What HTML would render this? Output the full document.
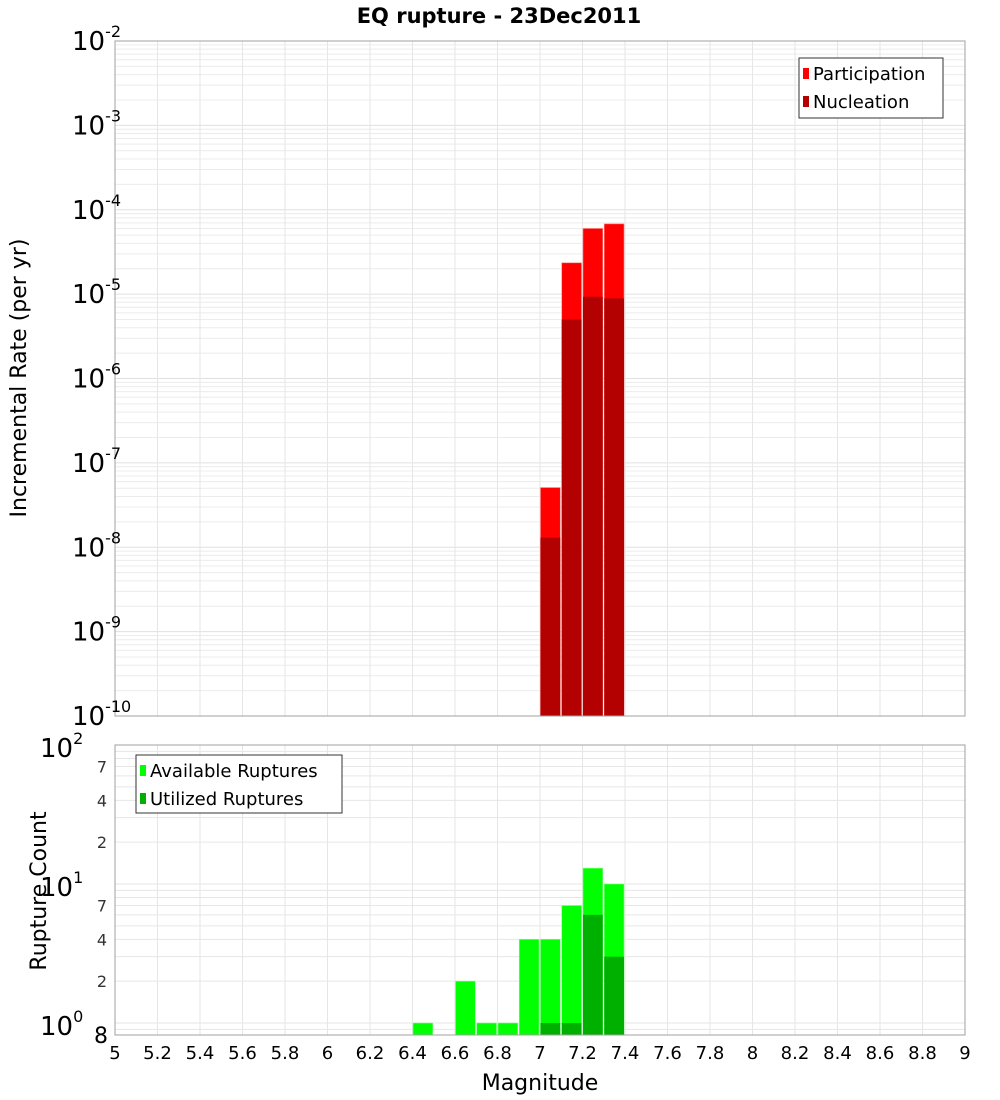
<!DOCTYPE html>
<html><head><meta charset="utf-8"><style>
html,body{margin:0;padding:0;background:#fff;}
svg{display:block;font-family:"DejaVu Sans","Liberation Sans",sans-serif;}
</style></head><body>
<svg id="c" width="1000" height="1100" xmlns="http://www.w3.org/2000/svg">
<text x="499" y="23" text-anchor="middle" font-size="21" font-weight="bold">EQ rupture - 23Dec2011</text>
<text transform="translate(26,378) rotate(-90)" text-anchor="middle" font-size="22">Incremental Rate (per yr)</text>
<text transform="translate(46,891) rotate(-90)" text-anchor="middle" font-size="22">Rupture Count</text>
<text x="540" y="1090" text-anchor="middle" font-size="22">Magnitude</text>
<g id="g"></g>
</svg>
<script>
const mags = [7.0, 7.1, 7.2, 7.3];
const participation = [5.1e-8, 2.35e-5, 6.0e-5, 6.8e-5];
const nucleation = [1.3e-8, 5.0e-6, 9.3e-6, 8.9e-6];
const countMags = [6.4, 6.5, 6.6, 6.7, 6.8, 6.9, 7.0, 7.1, 7.2, 7.3];
const available = [1, 0, 2, 1, 1, 4, 4, 7, 13, 10];
const utilized = [0, 0, 0, 0, 0, 0, 1, 1, 6, 3];
const xTicks = ["5","5.2","5.4","5.6","5.8","6","6.2","6.4","6.6","6.8","7","7.2","7.4","7.6","7.8","8","8.2","8.4","8.6","8.8","9"];

const NS = "http://www.w3.org/2000/svg";
const g = document.getElementById('g');
function mk(tag, attrs, parent){const e=document.createElementNS(NS,tag);for(const k in attrs)e.setAttribute(k,attrs[k]);(parent||g).appendChild(e);return e;}
const X0=115, X1=965;
const x = m => X0 + (m-5)/(9-5)*(X1-X0);
const T0=41, T1=716;
const yTop = v => T1 - (Math.log10(v)+10)*(T1-T0)/8;
const B0=745, B1=1035, BZ=1023, BD=139;
const yBot = v => BZ - Math.log10(v)*BD;

for(let e=-10;e<-2;e++){for(let k=1;k<10;k++){const yy=yTop(k*Math.pow(10,e));if(yy<T0)continue;
 const l=mk('line',{x1:X0,x2:X1,y1:yy,y2:yy,stroke:k==1?'#e0e0e0':'#ececec','stroke-width':1});
 }}
for(let i=0;i<=20;i++){const xx=x(5+i*0.2);
 const l=mk('line',{x1:xx,x2:xx,y1:T0,y2:T1,stroke:'#e6e6e6'});
 const l2=mk('line',{x1:xx,x2:xx,y1:B0,y2:B1,stroke:'#e6e6e6'});}
for(let e=-1;e<2;e++){for(let k=1;k<10;k++){const v=k*Math.pow(10,e);const yy=yBot(v);if(yy>B1||yy<B0)continue;
 const l=mk('line',{x1:X0,x2:X1,y1:yy,y2:yy,stroke:'#e6e6e6'});}}
{const l=mk('line',{x1:X0,x2:X1,y1:yBot(100),y2:yBot(100),stroke:'#e6e6e6'});}

mags.forEach((m,i)=>{
 const w=x(m+0.1)-x(m);
 const p=mk('rect',{x:x(m)+0.5,y:yTop(participation[i]),width:w-1.5,height:T1-yTop(participation[i]),fill:'#ff0000',stroke:'#ff8080','stroke-width':0.6});
 
 const n=mk('rect',{x:x(m)+0.5,y:yTop(nucleation[i]),width:w-1.5,height:T1-yTop(nucleation[i]),fill:'#b30000'});
 
});
countMags.forEach((m,i)=>{
 const w=x(m+0.1)-x(m);
 if(available[i]>0){const a=mk('rect',{x:x(m)+0.5,y:yBot(available[i]),width:w-1.5,height:B1-yBot(available[i]),fill:'#00ff00',stroke:'#80ff80','stroke-width':0.6});
  }
 if(utilized[i]>0){const u=mk('rect',{x:x(m)+0.5,y:yBot(utilized[i]),width:w-1.5,height:B1-yBot(utilized[i]),fill:'#00b000'});
  }
});

{const r=mk('rect',{x:X0,y:T0,width:X1-X0,height:T1-T0,fill:'none',stroke:'#a0a0a0'});
 const r2=mk('rect',{x:X0,y:B0,width:X1-X0,height:B1-B0,fill:'none',stroke:'#a0a0a0'});}

for(let e=-10;e<=-2;e++){const yy=yTop(Math.pow(10,e));
 const t=mk('text',{x:e==-10?72:72,y:yy+9,'font-size':26});
 
 t.innerHTML='10<tspan dy="-13" font-size="16">'+e+'</tspan>';}
[[100,'2'],[10,'1'],[1,'0']].forEach(([v,ex])=>{const yy=yBot(v);
 const t=mk('text',{x:40,y:yy+12,'font-size':26});
 
 t.innerHTML='10<tspan dy="-13" font-size="16">'+ex+'</tspan>';});
[7,4,2,70,40,20].forEach(v=>{const yy=yBot(v);
 const t=mk('text',{x:107,y:yy+6,'text-anchor':'end','font-size':16,fill:'#333'});
 
 t.textContent=String(v).charAt(0);});
{const t=mk('text',{x:108,y:1043,'text-anchor':'end','font-size':22});t.textContent='8';}
xTicks.forEach(s=>{const t=mk('text',{x:x(parseFloat(s)),y:1059,'text-anchor':'middle','font-size':18});
 t.textContent=s;});

function legend(x0,y0,w,h,items,name){
 const lg=mk('g',{});
 mk('rect',{x:x0,y:y0,width:w,height:h,fill:'#fff',stroke:'#333'},lg);
 items.forEach((it,i)=>{
  const s=mk('rect',{x:x0+4,y:y0+10+i*28,width:6,height:11,fill:it[1]},lg);
  
  const t=mk('text',{x:x0+14,y:y0+22+i*28,'font-size':18},lg);
  t.textContent=it[0];});
}
legend(799,58,144,60,[['Participation','#ff0000'],['Nucleation','#b30000']],'top-legend');
legend(136,755,206,58,[['Available Ruptures','#00ff00'],['Utilized Ruptures','#00b000']],'bottom-legend');
</script>
</body></html>
